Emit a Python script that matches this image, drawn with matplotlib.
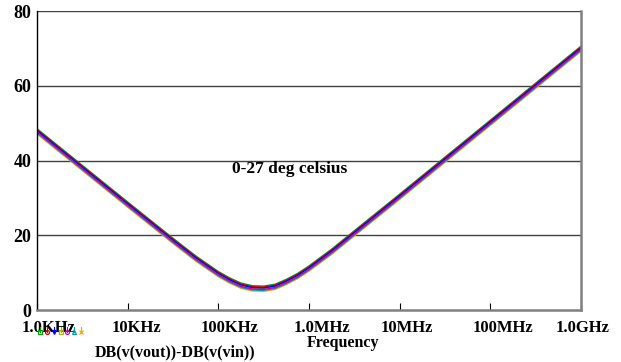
import matplotlib
matplotlib.use("Agg")
import numpy as np
from matplotlib import pyplot as plt
from matplotlib import transforms

plt.rcParams['font.family'] = ['Liberation Serif', 'DejaVu Serif']
plt.rcParams['font.weight'] = 'bold'

# frequency sweep (Hz) and gain in dB for the nominal run
freq = [1e3, 3.16e3, 1e4, 3.16e4, 5.62e4, 1e5, 1.33e5, 1.78e5, 2.37e5, 3.16e5,
        4.22e5, 5.62e5, 7.5e5, 1e6, 1.78e6, 3.16e6, 1e7, 3.16e7, 1e8, 3.16e8, 1e9]
gain_db = [47.8, 38.0, 28.2, 18.5, 13.8, 9.6, 7.9, 6.5, 5.8, 5.7,
           6.2, 7.5, 9.1, 11.1, 15.6, 20.5, 30.3, 40.2, 50.1, 60.0, 69.9]

# small spread between the temperature steps (dB)
temp_shift = [0.7, 0.45, 0.2, 0.0, -0.2, -0.45, -0.7]
colors = ['#00a000', '#d00000', '#0000ff', '#b0b000', '#c000c0', '#00a0a0', '#ffa500']
markers = ['s', 'o', 'v', 's', 'o', '^', 'x']

xticks = [1e3, 1e4, 1e5, 1e6, 1e7, 1e8, 1e9]
xlabels = ['1.0KHz', '10KHz', '100KHz', '1.0MHz', '10MHz', '100MHz', '1.0GHz']
yticks = [0, 20, 40, 60, 80]

fig = plt.figure(figsize=(6.21, 3.62), dpi=100)
ax = fig.add_axes([0.0596, 0.1436, 0.876, 0.826])

order = [0, 6, 5, 3, 1, 2, 4]
for i in order:
    ax.plot(freq, np.array(gain_db) + temp_shift[i], color=colors[i], lw=1.0)

ax.set_xscale('log')
ax.set_xlim(1e3, 1e9)
ax.set_ylim(0, 80)
ax.set_xticks(xticks)
ax.set_xticklabels(xlabels)
ax.minorticks_off()
ax.set_yticks(yticks)
ax.tick_params(axis='x', direction='in', length=5, pad=7, labelsize=12)
ax.tick_params(axis='y', length=0, pad=4, labelsize=13)

# tick labels sit a little right of their ticks
shifts = [12, 9, 11, 13, 7, 13, 2]
for lab, dx in zip(ax.get_xticklabels(), shifts):
    lab.set_transform(lab.get_transform() +
                      transforms.ScaledTranslation(dx / 100, 0, fig.dpi_scale_trans))

for y in [20, 40, 60, 80]:
    ax.axhline(y, color='#404040', lw=1, zorder=0)

ax.spines['left'].set_color('black')
ax.spines['left'].set_linewidth(1)
ax.spines['top'].set_visible(False)
ax.spines['bottom'].set_color('#808080')
ax.spines['bottom'].set_linewidth(1.8)
ax.spines['right'].set_color('#808080')
ax.spines['right'].set_linewidth(1.8)

ax.text(0.358, 0.47, '0-27 deg celsius', transform=ax.transAxes,
        fontsize=12.5, fontweight='bold', va='center', ha='left')

# legend glyphs for the seven temperature traces
for k, (c, m) in enumerate(zip(colors, markers)):
    xm = 0.006 + k * 0.0125
    ax.plot([xm, xm], [-0.058, -0.072], transform=ax.transAxes, color=c,
            lw=0.8, clip_on=False, zorder=5)
    ax.plot([xm], [-0.072], transform=ax.transAxes, color=c, marker=m,
            ms=2.8, mfc='none' if m != 'x' else c, mew=0.9, clip_on=False,
            zorder=5)

fig.text(0.282, 0.027, 'DB(v(vout))-DB(v(vin))', fontsize=11.5,
         fontweight='bold', ha='center', va='center')
fig.text(0.552, 0.052, 'Frequency', fontsize=11.5, fontweight='bold',
         ha='center', va='center')

fig.savefig('out.png', dpi=100)
